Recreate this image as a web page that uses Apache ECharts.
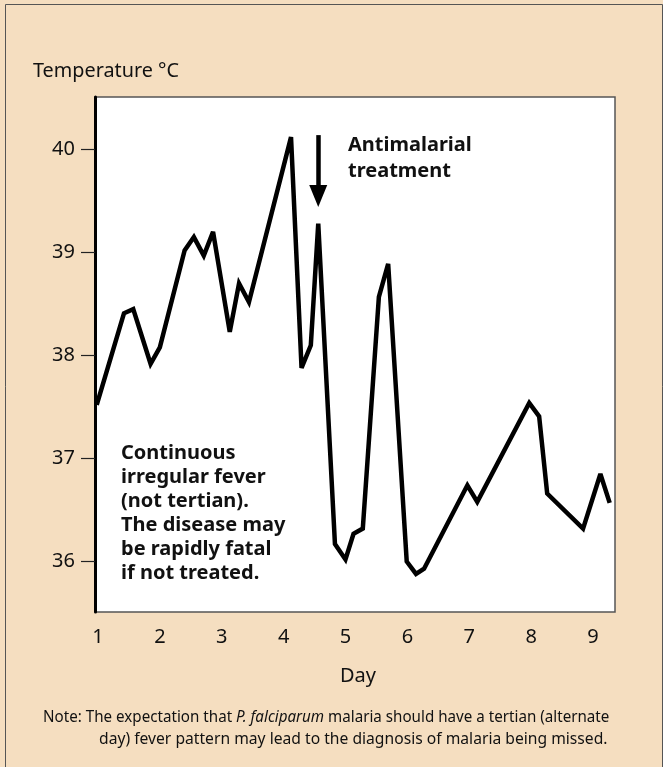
<!DOCTYPE html>
<html>
<head>
<meta charset="utf-8">
<script src="https://cdn.jsdelivr.net/npm/echarts@6/dist/echarts.min.js"></script>
<style>
html,body{margin:0;padding:0;background:#f5dec0;}
#main{width:663px;height:767px;}
</style>
</head>
<body>
<div id="main"></div>
<script>
// ---- data ----
const days = [0.98, 1.42, 1.57, 1.85, 2.0, 2.40, 2.55, 2.71, 2.86, 3.13, 3.28, 3.44, 4.12, 4.29, 4.44, 4.56, 4.83, 5.0, 5.13, 5.28, 5.54, 5.69, 5.99, 6.14, 6.27, 6.97, 7.13, 7.97, 8.13, 8.26, 8.84, 9.12, 9.27];
const temps = [37.52, 38.41, 38.45, 37.92, 38.08, 39.02, 39.15, 38.97, 39.20, 38.23, 38.70, 38.52, 40.12, 37.88, 38.10, 39.28, 36.17, 36.02, 36.27, 36.32, 38.57, 38.89, 36.0, 35.88, 35.93, 36.74, 36.58, 37.54, 37.41, 36.66, 36.32, 36.85, 36.57];
const xTicks = [1, 2, 3, 4, 5, 6, 7, 8, 9];
const yTicks = [36, 37, 38, 39, 40];
const arrowDay = 4.56;
const arrowFrom = 40.14;
const arrowTo = 39.55;
const yTitle = 'Temperature °C';
const xTitle = 'Day';
const treatmentLabel = 'Antimalarial\ntreatment';
const feverLabel = 'Continuous\nirregular fever\n(not tertian).\nThe disease may\nbe rapidly fatal\nif not treated.';
const noteLine1 = 'Note: The expectation that {i|P. falciparum} malaria should have a tertian (alternate';
const noteLine2 = 'day) fever pattern may lead to the diagnosis of malaria being missed.';

const FONT = '"Noto Sans", "Open Sans", sans-serif';

const chart = echarts.init(document.getElementById('main'));
chart.setOption({
  backgroundColor: '#f5dec0',
  animation: false,
  grid: {
    left: 95, top: 97, right: 48, bottom: 155,
    show: true, backgroundColor: '#ffffff', borderColor: '#555555', borderWidth: 1.5
  },
  xAxis: {
    type: 'value', min: 0.952, max: 9.356,
    axisLine: { show: false },
    axisTick: { show: false },
    splitLine: { show: false },
    axisLabel: { customValues: xTicks, color: '#111', fontSize: 20, fontFamily: FONT, margin: 15 }
  },
  yAxis: {
    type: 'value', min: 35.51, max: 40.51,
    axisLine: { show: true, lineStyle: { color: '#000', width: 3 } },
    axisTick: { show: true, customValues: yTicks, length: 14, inside: false, lineStyle: { color: '#222', width: 1.2 } },
    splitLine: { show: false },
    axisLabel: { customValues: yTicks, color: '#111', fontSize: 20, fontFamily: FONT, margin: 20 }
  },
  series: [{
    type: 'line',
    data: days.map((d, i) => [d, temps[i]]),
    showSymbol: false,
    symbol: 'none',
    lineStyle: { color: '#000', width: 4.5, join: 'miter', miterLimit: 3 },
    markLine: {
      silent: true,
      symbol: ['none', 'triangle'],
      symbolSize: [18, 22],
      label: { show: false },
      lineStyle: { color: '#000', width: 4.5, type: 'solid' },
      data: [[{ coord: [arrowDay, arrowFrom] }, { coord: [arrowDay, arrowTo] }]]
    }
  }],
  graphic: [
    { type: 'rect', shape: { x: 5.5, y: 4.5, width: 657, height: 800 }, style: { fill: 'none', stroke: '#555', lineWidth: 1 }, silent: true },
    { type: 'text', x: 33, y: 71, scaleX: 0.99, style: { text: yTitle, fontSize: 20, fontFamily: FONT, fill: '#111', verticalAlign: 'middle' } },
    { type: 'text', x: 358, y: 676, style: { text: xTitle, fontSize: 20, fontFamily: FONT, fill: '#111', align: 'center', verticalAlign: 'middle' } },
    { type: 'text', x: 348, y: 132, style: { text: treatmentLabel, fontSize: 20, fontWeight: 'bold', lineHeight: 26.5, fontFamily: FONT, fill: '#111' } },
    { type: 'text', x: 121, y: 441, style: { text: feverLabel, fontSize: 20, fontWeight: 'bold', lineHeight: 24.1, fontFamily: FONT, fill: '#111' } },
    { type: 'text', x: 43, y: 717, scaleX: 0.892, style: { text: noteLine1, fontSize: 17, fontFamily: FONT, fill: '#111', verticalAlign: 'middle',
        rich: { i: { fontStyle: 'italic', fontSize: 17, fontFamily: FONT, fill: '#111' } } } },
    { type: 'text', x: 99, y: 739, scaleX: 0.921, style: { text: noteLine2, fontSize: 17, fontFamily: FONT, fill: '#111', verticalAlign: 'middle' } }
  ]
});
</script>
</body>
</html>
